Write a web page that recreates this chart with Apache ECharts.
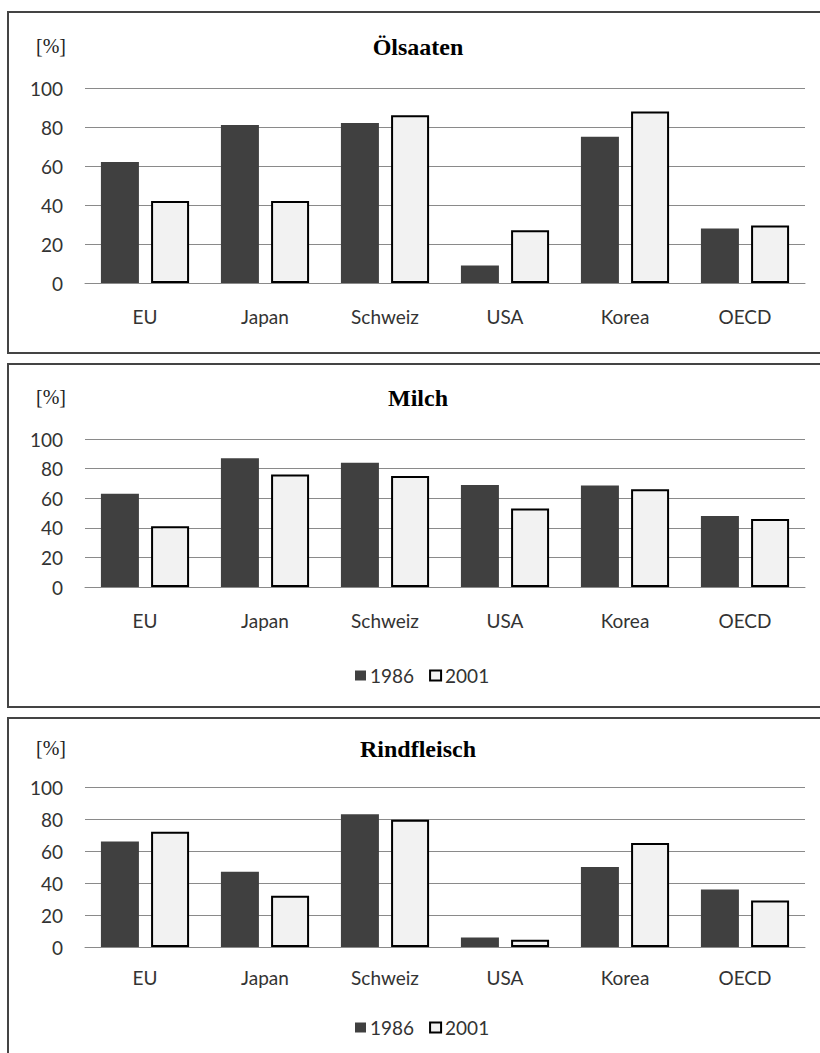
<!DOCTYPE html>
<html>
<head>
<meta charset="utf-8">
<script src="https://cdn.jsdelivr.net/npm/echarts@6/dist/echarts.min.js"></script>
<style>
html,body{margin:0;padding:0;background:#fff;}
#c{width:820px;height:1053px;}
</style>
</head>
<body>
<div id="c"></div>
<script>
var categories = ['EU', 'Japan', 'Schweiz', 'USA', 'Korea', 'OECD'];
var seriesNames = ['1986', '2001'];
var panelTitles = ['Ölsaaten', 'Milch', 'Rindfleisch'];
var yTicks = [0, 20, 40, 60, 80, 100];

var oelsaaten1986 = [62, 81, 82, 9, 75, 28];
var oelsaaten2001 = [42, 42, 86, 27, 88, 29.5];
var milch1986 = [63, 87, 84, 69, 68.5, 48];
var milch2001 = [41, 76, 75, 53, 66, 46];
var rind1986 = [66, 47, 83, 6, 50, 36];
var rind2001 = [72, 32, 79.5, 4.5, 65, 29];

var panelData = [
  [oelsaaten1986, oelsaaten2001],
  [milch1986, milch2001],
  [rind1986, rind2001]
];

var gridsLayout = [
  {top: 88, height: 195, labelMargin: 24},
  {top: 439, height: 148, labelMargin: 24},
  {top: 787, height: 160, labelMargin: 21}
];
var titleY = [47, 398, 749];
var boxes = [[12, 353], [364, 707], [718, 1070]];

var labelFont = 'Lato, "Open Sans", sans-serif';
var serifFont = '"Liberation Serif", "DejaVu Serif", serif';

var grid = [], xAxis = [], yAxis = [], series = [], graphic = [];
gridsLayout.forEach(function (g, i) {
  grid.push({left: 85, width: 720, top: g.top, height: g.height});
  xAxis.push({
    type: 'category', gridIndex: i, data: categories,
    axisLine: {show: true, lineStyle: {color: '#8a8a8a', width: 1}},
    axisTick: {show: false},
    axisLabel: {margin: g.labelMargin, color: '#333', fontFamily: labelFont, fontSize: 19}
  });
  yAxis.push({
    type: 'value', gridIndex: i, min: yTicks[0], max: yTicks[yTicks.length - 1], interval: 20,
    axisLine: {show: false}, axisTick: {show: false},
    splitLine: {lineStyle: {color: '#8a8a8a', width: 1}},
    axisLabel: {margin: 22, color: '#333', fontFamily: labelFont, fontSize: 19}
  });
  series.push({
    name: seriesNames[0], type: 'bar', xAxisIndex: i, yAxisIndex: i,
    data: panelData[i][0], barWidth: 38, barGap: '32%',
    itemStyle: {color: '#404040'}
  });
  series.push({
    name: seriesNames[1], type: 'bar', xAxisIndex: i, yAxisIndex: i,
    data: panelData[i][1], barWidth: 38, barGap: '32%',
    itemStyle: {color: '#f2f2f2', borderColor: '#000', borderWidth: 2}
  });
  graphic.push({
    type: 'rect', shape: {x: 8, y: boxes[i][0], width: 830, height: boxes[i][1] - boxes[i][0]},
    style: {fill: 'none', stroke: '#444', lineWidth: 2}, z: 0
  });
  graphic.push({
    type: 'text', x: 418, y: titleY[i],
    style: {text: panelTitles[i], font: 'bold 24px ' + serifFont, fill: '#000', textAlign: 'center', textVerticalAlign: 'middle'}
  });
  graphic.push({
    type: 'text', x: 51, y: titleY[i] - 1,
    style: {text: '[%]', font: '20px ' + serifFont, fill: '#222', textAlign: 'center', textVerticalAlign: 'middle'}
  });
});

var legendBase = {
  data: seriesNames, itemWidth: 11, itemHeight: 10, itemGap: 15,
  textStyle: {color: '#333', fontFamily: labelFont, fontSize: 19, padding: [0, 0, 0, -1]},
  icon: 'rect', padding: 0, selectedMode: false
};
var legend = [
  Object.assign({}, legendBase, {left: 355, top: 666}),
  Object.assign({}, legendBase, {left: 355, top: 1018})
];

var chart = echarts.init(document.getElementById('c'), null, {renderer: 'svg'});
chart.setOption({
  animation: false,
  backgroundColor: '#fff',
  grid: grid, xAxis: xAxis, yAxis: yAxis, series: series,
  legend: legend, graphic: graphic
});
</script>
</body>
</html>
